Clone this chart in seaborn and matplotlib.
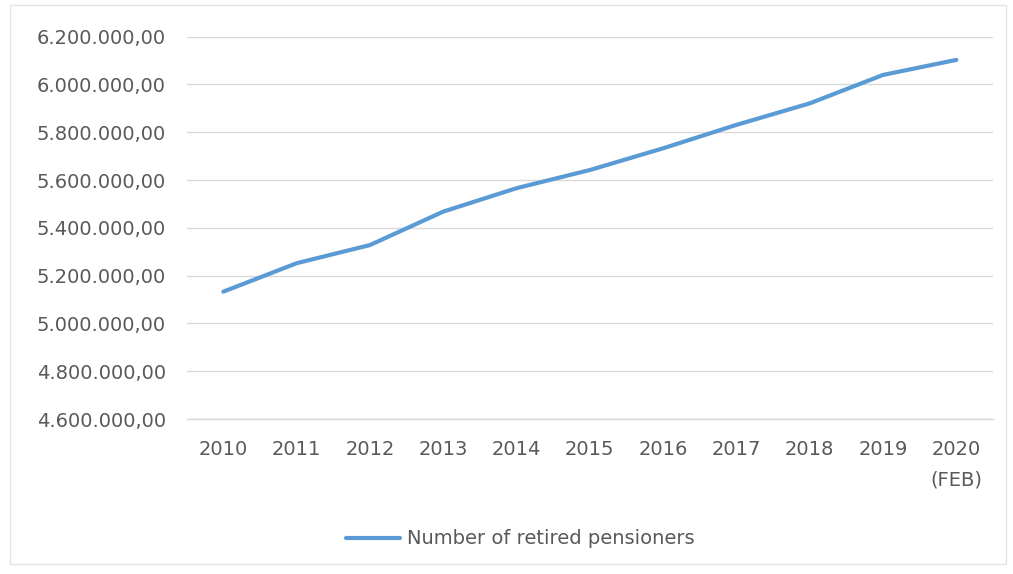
import matplotlib
matplotlib.use("Agg")
import matplotlib.pyplot as plt
import matplotlib.patches as mpatches
import seaborn as sns
import pandas as pd
from matplotlib.ticker import FuncFormatter

years = ["2010", "2011", "2012", "2013", "2014", "2015", "2016", "2017", "2018", "2019", "2020\n(FEB)"]
pensioners = [5133000, 5252000, 5328000, 5468000, 5566000, 5642000, 5733000, 5831000, 5921000, 6040000, 6103000]
y_ticks = [4600000, 4800000, 5000000, 5200000, 5400000, 5600000, 5800000, 6000000, 6200000]
series_name = "Number of retired pensioners"

df = pd.DataFrame({"year": years, "value": pensioners, "series": series_name})

sns.set_theme(style="white")
plt.rcParams["font.family"] = ["DejaVu Sans"]

fig = plt.figure(figsize=(10.13, 5.74), dpi=100)
ax = fig.add_axes([186.7 / 1013, 1 - 419 / 574, (993 - 186.7) / 1013, (419 - 36.7) / 574])

sns.lineplot(data=df, x="year", y="value", hue="series", palette=["#5B9BD5"],
             linewidth=3.0, ax=ax, sort=False, legend=False)

ax.set_xlim(-0.5, len(years) - 0.5)
ax.set_ylim(y_ticks[0], y_ticks[-1])
ax.set_yticks(y_ticks)
ax.yaxis.set_major_formatter(FuncFormatter(
    lambda v, p: f"{v:,.2f}".replace(",", "X").replace(".", ",").replace("X", ".")))
ax.grid(axis="y", color="#D9D9D9", linewidth=1.0)
ax.set_axisbelow(True)
for s in ["top", "right", "left"]:
    ax.spines[s].set_visible(False)
ax.spines["bottom"].set_color("#D9D9D9")
ax.spines["bottom"].set_linewidth(1.0)
ax.tick_params(axis="y", length=0, pad=15, labelsize=14, labelcolor="#595959")
ax.tick_params(axis="x", length=0, pad=15, labelsize=14, labelcolor="#595959")
for lbl in ax.get_xticklabels():
    lbl.set_linespacing(1.75)
ax.set_xlabel("")
ax.set_ylabel("")

handle = plt.Line2D([], [], color="#5B9BD5", linewidth=3.0)
fig.legend([handle], [series_name], loc="center", bbox_to_anchor=(520 / 1013, 1 - 539 / 574),
           frameon=False, fontsize=14, handlelength=2.8, handletextpad=0.35,
           labelcolor="#595959")

fig.patches.append(mpatches.Rectangle((10 / 1013, 1 - 564 / 574), (1006 - 10) / 1013, (564 - 5) / 574,
                                      transform=fig.transFigure, fill=False,
                                      edgecolor="#E3E3E3", linewidth=1.0))

fig.savefig("out.png", dpi=100, facecolor="white")
